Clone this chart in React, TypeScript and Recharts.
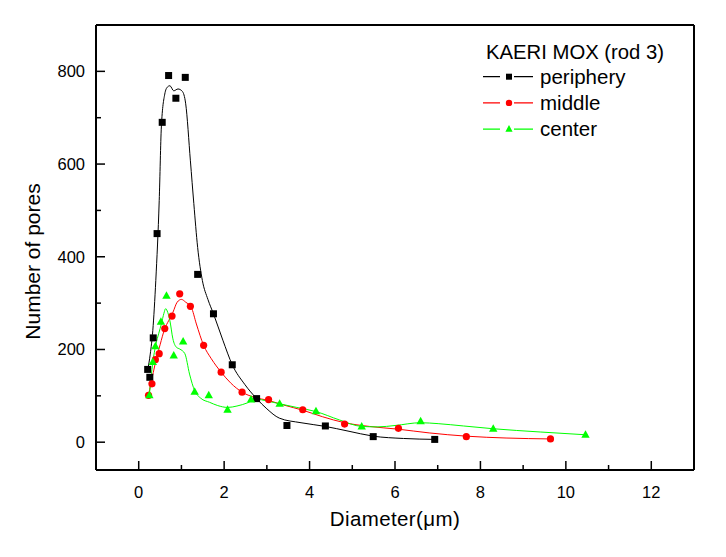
import React from 'react';
import { ComposedChart, XAxis, YAxis, Line, Scatter, ReferenceLine, Label } from 'recharts';

// ---- tick values ----
const xTicks = [0, 1, 2, 3, 4, 5, 6, 7, 8, 9, 10, 11, 12];
const yTicks = [0, 100, 200, 300, 400, 500, 600, 700, 800];

// ---- measured points ----
const peripheryD = [0.21, 0.26, 0.34, 0.43, 0.55, 0.70, 0.87, 1.09, 1.38, 1.75, 2.19, 2.76, 3.47, 4.37, 5.49, 6.93];
const peripheryN = [157, 140, 225, 450, 690, 791, 742, 787, 362, 277, 167, 94, 36, 35, 12, 6];

const middleD = [0.23, 0.31, 0.39, 0.48, 0.61, 0.78, 0.96, 1.21, 1.52, 1.93, 2.42, 3.04, 3.84, 4.82, 6.08, 7.67, 9.64];
const middleN = [101, 126, 178, 191, 245, 272, 320, 293, 209, 151, 108, 92, 70, 39, 30, 12, 7];

const centerD = [0.25, 0.33, 0.39, 0.52, 0.65, 0.82, 1.04, 1.31, 1.64, 2.08, 2.63, 3.30, 4.15, 5.22, 6.60, 8.30, 10.46];
const centerN = [101, 173, 207, 260, 316, 187, 217, 109, 101, 70, 92, 83, 67, 34, 45, 29, 16];

// ---- smoothed fit curves ----
const peripheryFitD = [0.21, 0.27, 0.33, 0.40, 0.48, 0.53, 0.61, 0.67, 0.73, 0.82, 0.92, 1.02, 1.10, 1.21, 1.29, 1.38, 1.49, 1.62, 1.75, 1.97, 2.19, 2.48, 2.76, 3.0, 3.29, 3.8, 4.37, 4.9, 5.49, 6.2, 6.93];
const peripheryFitN = [155, 190, 241, 349, 521, 680, 751, 766, 769, 758, 762, 757, 730, 607, 515, 420, 349, 308, 277, 220, 167, 125, 94, 72, 52, 42, 34, 24, 13, 8, 6];

const middleFitD = [0.23, 0.28, 0.34, 0.42, 0.5, 0.61, 0.7, 0.8, 0.9, 1.0, 1.1, 1.23, 1.35, 1.52, 1.7, 1.93, 2.15, 2.42, 2.7, 3.04, 3.4, 3.84, 4.3, 4.82, 5.4, 6.08, 6.8, 7.67, 8.6, 9.64];
const middleFitN = [101, 125, 150, 183, 210, 245, 262, 280, 302, 308, 302, 291, 255, 209, 180, 151, 128, 108, 97, 90, 80, 69, 55, 42, 34, 28, 20, 13, 9, 7];

const centerFitD = [0.25, 0.29, 0.33, 0.40, 0.47, 0.53, 0.59, 0.63, 0.68, 0.73, 0.80, 0.88, 0.96, 1.08, 1.19, 1.31, 1.45, 1.66, 1.85, 2.08, 2.3, 2.55, 2.74, 3.0, 3.29, 3.7, 4.15, 4.7, 5.22, 5.6, 6.0, 6.6, 7.01, 7.6, 8.30, 9.4, 10.46];
const centerFitN = [101, 140, 172, 210, 235, 255, 278, 288, 280, 262, 223, 205, 201, 191, 147, 111, 95, 86, 79, 75, 78, 85, 93, 89, 83, 75, 66, 48, 34, 33, 36, 42, 40, 35, 29, 22, 16];

const seriesNames = ['periphery', 'middle', 'center'];
const seriesColors = ['#000000', '#ff0000', '#00ff00'];
const legendTitle = 'KAERI MOX (rod 3)';

const zip = (xs: number[], ys: number[]) => xs.map((x, i) => ({ x, y: ys[i] }));

const periphery = zip(peripheryD, peripheryN);
const middle = zip(middleD, middleN);
const center = zip(centerD, centerN);
const peripheryFit = zip(peripheryFitD, peripheryFitN);
const middleFit = zip(middleFitD, middleFitN);
const centerFit = zip(centerFitD, centerFitN);

const FONT = '"Liberation Sans", Arial, sans-serif';
const GREEN = '#00ff00';

const Square = (props: any) => {
  const { cx, cy } = props;
  if (cx == null || cy == null) return null;
  return <rect x={cx - 3.5} y={cy - 3.5} width={7} height={7} fill="#000" />;
};
const Dot = (props: any) => {
  const { cx, cy } = props;
  if (cx == null || cy == null) return null;
  return <circle cx={cx} cy={cy} r={3.6} fill="#ff0000" />;
};
const Tri = (props: any) => {
  const { cx, cy } = props;
  if (cx == null || cy == null) return null;
  return <polygon points={`${cx},${cy - 4.5} ${cx - 4.2},${cy + 3} ${cx + 4.2},${cy + 3}`} fill={GREEN} />;
};

const XTick = (props: any) => {
  const { x, y, payload } = props;
  const major = payload.value % 2 === 0;
  return (
    <g>
      <line x1={x} y1={y} x2={x} y2={y - (major ? 9 : 5)} stroke="#000" strokeWidth={1.5} />
      {major && (
        <text x={x} y={y + 28} textAnchor="middle" fontFamily={FONT} fontSize={16.5} fill="#000">
          {payload.value}
        </text>
      )}
    </g>
  );
};

const YTick = (props: any) => {
  const { x, y, payload } = props;
  const major = payload.value % 200 === 0;
  return (
    <g>
      <line x1={x} y1={y} x2={x + (major ? 9 : 5)} y2={y} stroke="#000" strokeWidth={1.5} />
      {major && (
        <text x={x - 11} y={y} dy="0.36em" textAnchor="end" fontFamily={FONT} fontSize={16.5} fill="#000">
          {payload.value}
        </text>
      )}
    </g>
  );
};

const XTitle = (props: any) => {
  const vb = props.viewBox || {};
  return (
    <text x={vb.x + vb.width / 2} y={vb.y + 56} textAnchor="middle" fontFamily={FONT} fontSize={20.5} letterSpacing={0.4} fill="#000">
      Diameter(μm)
    </text>
  );
};

const YTitle = (props: any) => {
  const vb = props.viewBox || {};
  const cx = 32;
  const cy = vb.y + vb.height / 2 + 14;
  return (
    <text x={cx} y={cy} transform={`rotate(-90 ${cx} ${cy})`} textAnchor="middle" fontFamily={FONT} fontSize={21} fill="#000">
      Number of pores
    </text>
  );
};

const markerFor = (i: number, cx: number, cy: number) => {
  if (i === 0) return <rect x={cx - 3} y={cy - 3} width={6} height={6} fill="#000" />;
  if (i === 1) return <circle cx={cx} cy={cy} r={3.2} fill="#ff0000" />;
  return <polygon points={`${cx},${cy - 4} ${cx - 3.6},${cy + 2.6} ${cx + 3.6},${cy + 2.6}`} fill={GREEN} />;
};

const LegendBox = () => (
  <svg width={220} height={120} style={{ position: 'absolute', left: 470, top: 20, overflow: 'visible' }}>
    <text x={8} y={31} fontFamily={FONT} fontSize={20.3} fill="#000">{legendTitle}</text>
    {seriesNames.map((n, i) => {
      const cy = 48.7 + i * 26.2;
      return (
        <g key={n}>
          <line x1={5} y1={cy} x2={55} y2={cy} stroke={seriesColors[i]} strokeWidth={1.2} />
          <rect x={22} y={cy - 5} width={14} height={10} fill="#fff" />
          {markerFor(i, 31, cy)}
          <text x={62} y={cy} dy="0.36em" fontFamily={FONT} fontSize={20.5} fill="#000">{n}</text>
        </g>
      );
    })}
  </svg>
);

export default function App() {
  return (
    <div style={{ position: 'relative', width: 710, height: 541 }}>
      <ComposedChart width={710} height={541} margin={{ top: 17, right: 24, left: 0, bottom: 0 }}>
        <XAxis
          type="number"
          dataKey="x"
          domain={[-1, 13]}
          ticks={xTicks}
          interval={0}
          allowDataOverflow
          height={79}
          tickSize={0}
          tickMargin={0}
          tickLine={false}
          tick={<XTick />}
          axisLine={{ stroke: '#000', strokeWidth: 2 }}
        >
          <Label content={<XTitle />} />
        </XAxis>
        <YAxis
          type="number"
          dataKey="y"
          domain={[-60, 900]}
          ticks={yTicks}
          interval={0}
          allowDataOverflow
          width={88}
          tickSize={0}
          tickMargin={0}
          tickLine={false}
          tick={<YTick />}
          axisLine={{ stroke: '#000', strokeWidth: 2 }}
        >
          <Label content={<YTitle />} />
        </YAxis>
        <ReferenceLine y={900} stroke="#000" strokeWidth={2} />
        <ReferenceLine x={13} stroke="#000" strokeWidth={2} />
        <Line data={peripheryFit} dataKey="y" type="monotone" stroke="#000" strokeWidth={1} dot={false} isAnimationActive={false} />
        <Line data={middleFit} dataKey="y" type="monotone" stroke="#ff0000" strokeWidth={1} dot={false} isAnimationActive={false} />
        <Line data={centerFit} dataKey="y" type="monotone" stroke={GREEN} strokeWidth={1} dot={false} isAnimationActive={false} />
        <Scatter data={periphery} dataKey="y" shape={<Square />} isAnimationActive={false} />
        <Scatter data={middle} dataKey="y" shape={<Dot />} isAnimationActive={false} />
        <Scatter data={center} dataKey="y" shape={<Tri />} isAnimationActive={false} />
      </ComposedChart>
      <LegendBox />
    </div>
  );
}
